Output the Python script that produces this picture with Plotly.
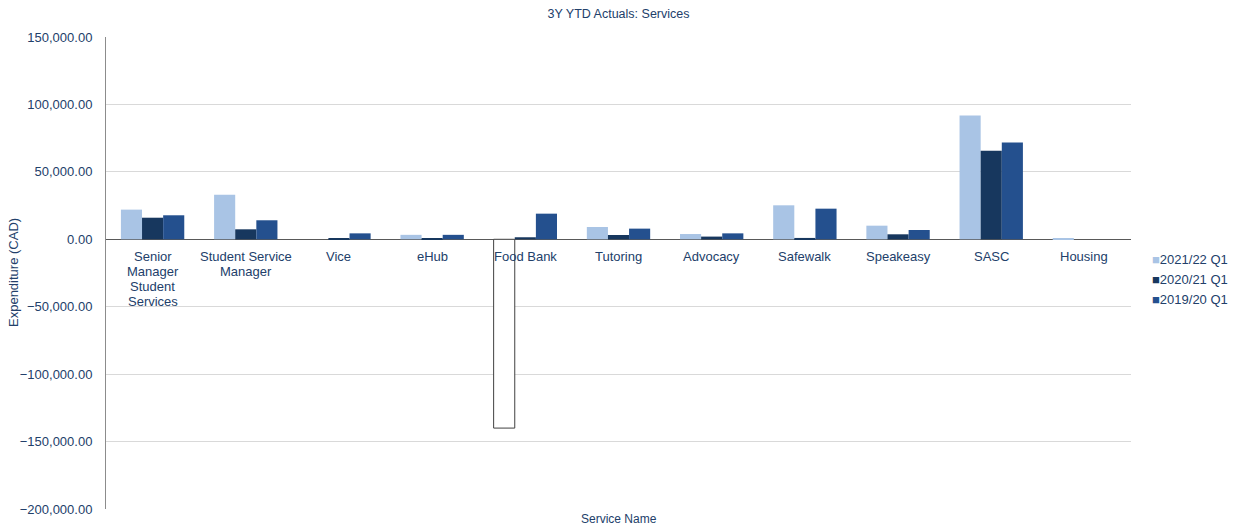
import plotly.graph_objects as go

# Services and their quarterly year-to-date expenditure (CAD)
services = ["Senior Manager Student Services", "Student Service Manager", "Vice", "eHub",
            "Food Bank", "Tutoring", "Advocacy", "Safewalk", "Speakeasy", "SASC", "Housing"]
service_labels = ["Senior<br>Manager<br>Student<br>Services", "Student Service<br>Manager", "Vice", "eHub",
                  "Food Bank", "Tutoring", "Advocacy", "Safewalk", "Speakeasy", "SASC", "Housing"]

fy2122_q1 = [22000, 33100, 0, 3300, -140000, 9100, 3900, 25200, 10100, 91700, 500]
fy2021_q1 = [16000, 7400, 500, 700, 1500, 3200, 2000, 1000, 3700, 65700, 0]
fy1920_q1 = [17800, 14100, 4400, 3300, 19000, 7900, 4400, 22700, 6900, 71700, 0]

series_names = ["2021/22 Q1", "2020/21 Q1", "2019/20 Q1"]
series_values = [fy2122_q1, fy2021_q1, fy1920_q1]
series_colors = ["#A9C4E5", "#17375E", "#24508E"]

text_color = "#22406A"
font_family = "Liberation Sans, Arial, Helvetica, sans-serif"
label_font = dict(size=13, color=text_color, family=font_family)

fig = go.Figure()
for name, vals, col in zip(series_names, series_values, series_colors):
    # negative values are drawn as hollow bars with a dark outline
    fills = [col if v >= 0 else "white" for v in vals]
    edges = [col if v >= 0 else "#404040" for v in vals]
    widths = [0 if v >= 0 else 1 for v in vals]
    fig.add_trace(go.Bar(
        x=services, y=vals, name=name, showlegend=False,
        marker=dict(color=fills, line=dict(color=edges, width=widths)),
    ))

# category labels sit just under the zero line, one annotation per text line
line_step = 15
for svc, lab in zip(services, service_labels):
    for i, part in enumerate(lab.split("<br>")):
        fig.add_annotation(x=svc, y=0, xref="x", yref="y", text=part, showarrow=False,
                           yanchor="top", yshift=-8 - line_step * i, align="center",
                           font=label_font)

# series key on the right: coloured square followed by the series name
key_x = (1150 - 106) / 1025
key_rows = [259, 279, 299]
for name, col, row in zip(series_names, series_colors, key_rows):
    fig.add_annotation(x=key_x, y=(509 - row) / 472, xref="paper", yref="paper",
                       text=f"<span style='color:{col}'>■</span>{name}",
                       showarrow=False, xanchor="left", yanchor="middle",
                       font=label_font)

fig.add_annotation(x=0.5, y=0, xref="paper", yref="paper", text="Service Name",
                   showarrow=False, yanchor="middle", yshift=-10,
                   font=dict(size=12, color=text_color, family=font_family))

fig.add_annotation(x=0, y=0.5, xref="paper", yref="paper", text="Expenditure (CAD)",
                   showarrow=False, textangle=-90, xanchor="center", yanchor="middle",
                   xshift=-93, font=label_font)

fig.update_layout(
    width=1237, height=529,
    margin=dict(l=106, r=106, t=37, b=20, autoexpand=False),
    paper_bgcolor="white", plot_bgcolor="white",
    barmode="group", bargap=0.32, bargroupgap=0,
    font=dict(family=font_family, color=text_color, size=13),
    title=dict(text="3Y YTD Actuals: Services", x=0.5, xanchor="center",
               y=1 - 14 / 529, yanchor="middle",
               font=dict(size=12.5, color=text_color, family=font_family)),
    showlegend=False,
)

fig.update_xaxes(showticklabels=False, showgrid=False, showline=False, zeroline=False,
                 ticks="", automargin=False)
fig.update_yaxes(range=[-200000, 150000], dtick=50000, tickformat=",.2f",
                 showgrid=True, gridcolor="#D9D9D9", gridwidth=1,
                 zeroline=True, zerolinecolor="#595959", zerolinewidth=1,
                 showline=True, linecolor="#8C8C8C", linewidth=1,
                 ticks="", ticklabelstandoff=10, automargin=False,
                 tickfont=label_font)

fig.write_html("out.html")
